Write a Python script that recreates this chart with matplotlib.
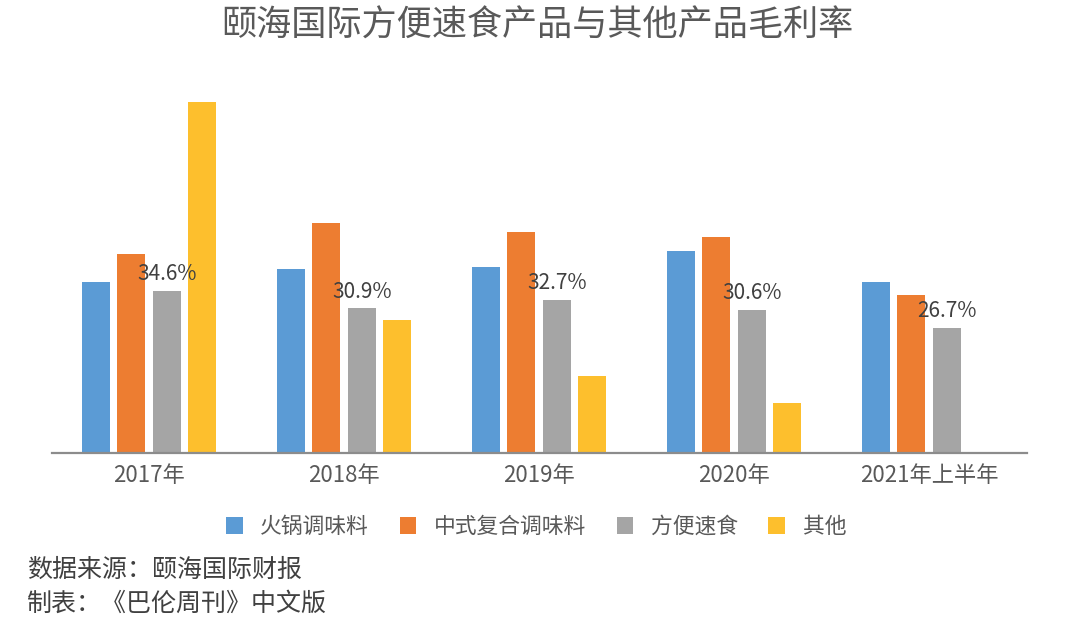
import matplotlib
matplotlib.use("Agg")
import matplotlib.pyplot as plt
from matplotlib.patches import Patch

plt.rcParams['font.family'] = ['Noto Sans CJK SC', 'DejaVu Sans']

categories = ["2017年", "2018年", "2019年", "2020年", "2021年上半年"]
series_names = ["火锅调味料", "中式复合调味料", "方便速食", "其他"]
hotpot = [36.5, 39.3, 39.7, 43.1, 36.5]
compound = [42.5, 49.1, 47.1, 46.1, 33.7]
instant = [34.6, 30.9, 32.7, 30.6, 26.7]
other = [75.0, 28.3, 16.5, 10.7, None]
colors = ["#5B9BD5", "#ED7D31", "#A5A5A5", "#FDBF2D"]

title = "颐海国际方便速食产品与其他产品毛利率"
source_lines = ["数据来源：颐海国际财报", "制表：《巴伦周刊》中文版"]

fig = plt.figure(figsize=(10.66, 6.26), dpi=100)
ax = fig.add_axes([51.5 / 1066, 1 - 453 / 626, 975 / 1066, 374.6 / 626])

all_series = [hotpot, compound, instant, other]
width = 0.1436
step = 0.182
x = list(range(len(categories)))
for j, (vals, c) in enumerate(zip(all_series, colors)):
    xs = [i + (j - 1.5) * step for i, v in zip(x, vals) if v is not None]
    hs = [v for v in vals if v is not None]
    ax.bar(xs, hs, width=width, color=c, zorder=2)

for i, v in enumerate(instant):
    ax.annotate(f"{v}%", (i + 0.5 * step, v), xytext=(0, 4), textcoords="offset points",
                ha="center", va="bottom", fontsize=15, color="#404040", zorder=3)

ax.set_xlim(-0.5, len(categories) - 0.5)
ax.set_ylim(0, 80)
ax.set_xticks(x)
ax.set_xticklabels(categories, fontsize=16, color="#595959")
ax.tick_params(axis='x', length=0, pad=8)
ax.set_yticks([])
for s in ["left", "right", "top"]:
    ax.spines[s].set_visible(False)
ax.spines["bottom"].set_color("#8C8C8C")
ax.spines["bottom"].set_linewidth(1.6)
ax.spines["bottom"].set_zorder(3)

fig.text(537.5 / 1066, 1 - 26 / 626, title, ha="center", va="center", fontsize=25.3, color="#595959")

handles = [Patch(facecolor=c, edgecolor="none") for c in colors]
fig.legend(handles, series_names, loc="center", bbox_to_anchor=(536 / 1066, 1 - 527 / 626),
           ncol=4, frameon=False, fontsize=15.7, labelcolor="#595959",
           handlelength=0.77, handleheight=0.77, handletextpad=0.8, columnspacing=1.4)

fig.text(27 / 1066, 1 - 570 / 626, source_lines[0], ha="left", va="center", fontsize=18, color="#404040")
fig.text(27 / 1066, 1 - 604 / 626, source_lines[1], ha="left", va="center", fontsize=18, color="#404040")

fig.savefig("out.png", dpi=100, facecolor="white")
